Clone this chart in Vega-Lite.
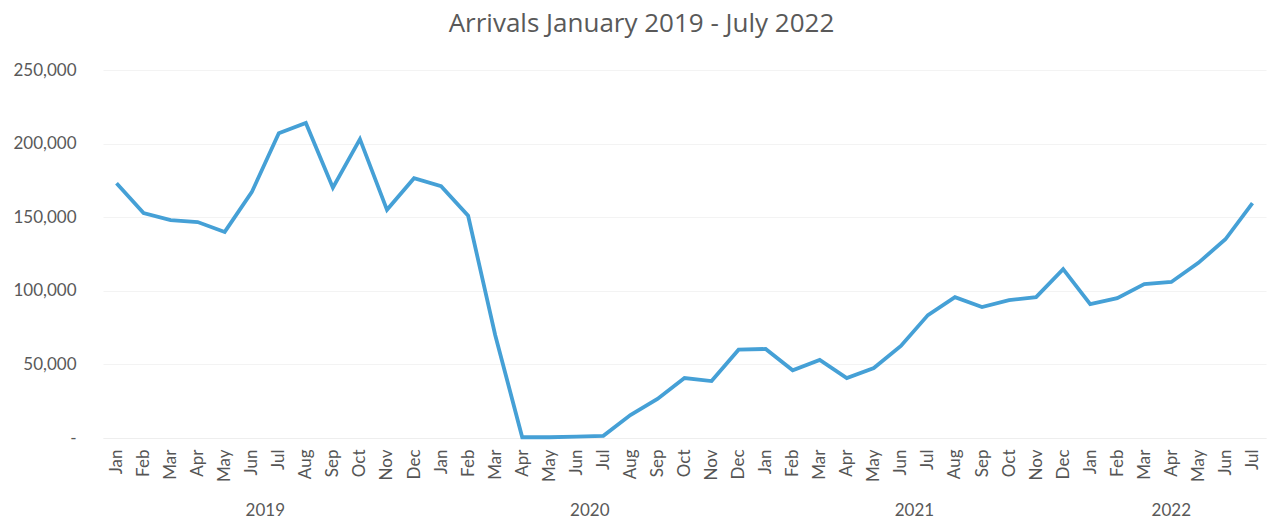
{
  "$schema": "https://vega.github.io/schema/vega-lite/v6.json",
  "width": 1163,
  "height": 368,
  "autosize": "none",
  "padding": {"left": 103, "top": 70, "right": 10, "bottom": 82},
  "background": "white",
  "config": {
    "view": {"stroke": null},
    "font": "Lato"
  },
  "title": {
    "text": "Arrivals January 2019 - July 2022",
    "fontSize": 26,
    "font": "Open Sans",
    "fontWeight": "normal",
    "color": "#595959",
    "anchor": "middle",
    "dx": -43,
    "offset": 24
  },
  "data": {
    "values": [
      {"date": "2019-01", "year": "2019", "arrivals": 173000},
      {"date": "2019-02", "year": "2019", "arrivals": 152800},
      {"date": "2019-03", "year": "2019", "arrivals": 148000},
      {"date": "2019-04", "year": "2019", "arrivals": 146700},
      {"date": "2019-05", "year": "2019", "arrivals": 140000},
      {"date": "2019-06", "year": "2019", "arrivals": 167000},
      {"date": "2019-07", "year": "2019", "arrivals": 207000},
      {"date": "2019-08", "year": "2019", "arrivals": 214000},
      {"date": "2019-09", "year": "2019", "arrivals": 170000},
      {"date": "2019-10", "year": "2019", "arrivals": 203000},
      {"date": "2019-11", "year": "2019", "arrivals": 155000},
      {"date": "2019-12", "year": "2019", "arrivals": 176500},
      {"date": "2020-01", "year": "2020", "arrivals": 171000},
      {"date": "2020-02", "year": "2020", "arrivals": 151000},
      {"date": "2020-03", "year": "2020", "arrivals": 70000},
      {"date": "2020-04", "year": "2020", "arrivals": 500},
      {"date": "2020-05", "year": "2020", "arrivals": 500},
      {"date": "2020-06", "year": "2020", "arrivals": 1000},
      {"date": "2020-07", "year": "2020", "arrivals": 1500},
      {"date": "2020-08", "year": "2020", "arrivals": 15600},
      {"date": "2020-09", "year": "2020", "arrivals": 26500},
      {"date": "2020-10", "year": "2020", "arrivals": 40700},
      {"date": "2020-11", "year": "2020", "arrivals": 38700},
      {"date": "2020-12", "year": "2020", "arrivals": 60000},
      {"date": "2021-01", "year": "2021", "arrivals": 60500},
      {"date": "2021-02", "year": "2021", "arrivals": 46000},
      {"date": "2021-03", "year": "2021", "arrivals": 53000},
      {"date": "2021-04", "year": "2021", "arrivals": 40700},
      {"date": "2021-05", "year": "2021", "arrivals": 47500},
      {"date": "2021-06", "year": "2021", "arrivals": 62500},
      {"date": "2021-07", "year": "2021", "arrivals": 83500},
      {"date": "2021-08", "year": "2021", "arrivals": 95700},
      {"date": "2021-09", "year": "2021", "arrivals": 89000},
      {"date": "2021-10", "year": "2021", "arrivals": 93700},
      {"date": "2021-11", "year": "2021", "arrivals": 95700},
      {"date": "2021-12", "year": "2021", "arrivals": 114700},
      {"date": "2022-01", "year": "2022", "arrivals": 91000},
      {"date": "2022-02", "year": "2022", "arrivals": 95000},
      {"date": "2022-03", "year": "2022", "arrivals": 104600},
      {"date": "2022-04", "year": "2022", "arrivals": 106000},
      {"date": "2022-05", "year": "2022", "arrivals": 119000},
      {"date": "2022-06", "year": "2022", "arrivals": 135000},
      {"date": "2022-07", "year": "2022", "arrivals": 159600}
    ]
  },
  "transform": [
    {"window": [{"op": "row_number", "as": "n"}], "sort": [{"field": "date", "order": "ascending"}]}
  ],
  "layer": [
    {
      "mark": {"type": "line", "color": "#45a0d6", "strokeWidth": 3.8, "strokeJoin": "miter"},
      "encoding": {
        "x": {
          "field": "n",
          "type": "quantitative",
          "scale": {"domain": [0.5, 43.5], "nice": false, "zero": false},
          "axis": {
            "title": null,
            "values": [1,2,3,4,5,6,7,8,9,10,11,12,13,14,15,16,17,18,19,20,21,22,23,24,25,26,27,28,29,30,31,32,33,34,35,36,37,38,39,40,41,42,43],
            "tickCount": 60,
            "labelExpr": "['Jan','Feb','Mar','Apr','May','Jun','Jul','Aug','Sep','Oct','Nov','Dec'][(datum.value - 1) % 12]",
            "labelAngle": -90,
            "labelFontSize": 17,
            "labelColor": "#555555",
            "labelPadding": 11,
            "labelFont": "Lato",
            "ticks": false,
            "grid": false,
            "domain": true,
            "domainColor": "#eeeeee",
            "domainWidth": 1,
            "labelOverlap": false
          }
        },
        "y": {
          "field": "arrivals",
          "type": "quantitative",
          "scale": {"domain": [0, 250000], "nice": false},
          "axis": {
            "title": null,
            "values": [0, 50000, 100000, 150000, 200000, 250000],
            "labelExpr": "datum.value == 0 ? '-\u00a0\u00a0\u00a0\u00a0\u00a0\u00a0' : format(datum.value, ',')",
            "labelFontSize": 17,
            "labelColor": "#595959",
            "labelPadding": 27,
            "labelFont": "Lato",
            "ticks": false,
            "domain": false,
            "grid": true,
            "gridColor": "#f3f3f3",
            "gridWidth": 1
          }
        }
      }
    },
    {
      "transform": [
        {"aggregate": [{"op": "mean", "field": "n", "as": "mid"}], "groupby": ["year"]}
      ],
      "mark": {"type": "text", "fontSize": 17, "font": "Lato", "color": "#595959", "baseline": "middle", "align": "center", "dy": 73},
      "encoding": {
        "x": {"field": "mid", "type": "quantitative"},
        "y": {"datum": 0, "type": "quantitative"},
        "text": {"field": "year"}
      }
    }
  ]
}
